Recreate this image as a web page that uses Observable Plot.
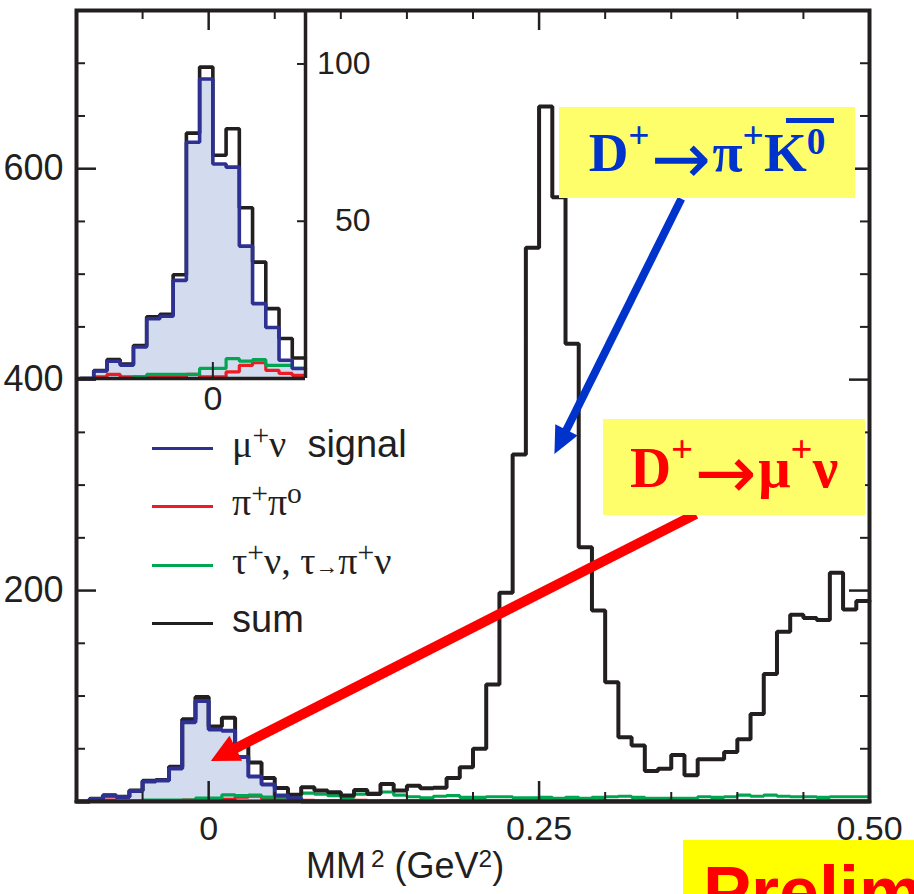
<!DOCTYPE html>
<html><head><meta charset="utf-8">
<script src="https://cdn.jsdelivr.net/npm/d3@7"></script>
<script src="https://cdn.jsdelivr.net/npm/@observablehq/plot@0.6"></script>
<style>
body{margin:0;background:#fff;}
#wrap{position:relative;width:914px;height:894px;overflow:hidden;background:#fff;}
#wrap svg{position:absolute;left:0;top:0;}
.abs{position:absolute;white-space:nowrap;line-height:1;}
.serif{font-family:"Liberation Serif","Times New Roman",serif;}
.sans{font-family:"Liberation Sans",Arial,Helvetica,sans-serif;}
.lsup{font-size:0.78em;position:relative;top:-0.4em;}
.tsup{font-size:0.68em;position:relative;top:-0.45em;}
.bigarrow{font-family:"DejaVu Sans",sans-serif;font-size:1.3em;font-weight:normal;position:relative;top:0.08em;margin:0 0.02em;line-height:0.8;}
.box{position:absolute;display:flex;align-items:center;justify-content:center;white-space:nowrap;line-height:1;font-weight:bold;}
</style></head><body><div id="wrap"></div>
<script>
// ---------------- data ----------------
const binLow = [-0.10,-0.09,-0.08,-0.07,-0.06,-0.05,-0.04,-0.03,-0.02,-0.01,
  0.00,0.01,0.02,0.03,0.04,0.05,0.06,0.07,0.08,0.09,
  0.10,0.11,0.12,0.13,0.14,0.15,0.16,0.17,0.18,0.19,
  0.20,0.21,0.22,0.23,0.24,0.25,0.26,0.27,0.28,0.29,
  0.30,0.31,0.32,0.33,0.34,0.35,0.36,0.37,0.38,0.39,
  0.40,0.41,0.42,0.43,0.44,0.45,0.46,0.47,0.48,0.49];
const binTop = 0.50;
const sumCounts = [0,2.5,6,4.6,10.5,19.6,20.4,33,78,99,
  71,79.4,54.3,37,22.2,12.7,6.5,13.6,10.4,8.8,
  5.7,11,7,16.7,10.4,15,12.5,13,22.4,32.5,
  50,111,198,329,525,659,573,434,241,181,
  113,61,53,29,31,44,25,40,40,47,
  59,83,121,161,177,174,172,217,182,190];
const signalCounts = [0,2.4,5.5,4.2,10,19,19.8,31.2,75.1,95.2,
  68.2,67.2,42.1,23.8,16.2,5.8,3.2,0,0,0,
  0,0,0,0,0,0,0,0,0,0,
  0,0,0,0,0,0,0,0,0,0,
  0,0,0,0,0,0,0,0,0,0,
  0,0,0,0,0,0,0,0,0,0];
const pipiCounts = [0,0.5,1.3,0.5,0.5,0.5,0.5,0.5,1.3,0.5,
  0.5,2.1,4.2,5,2.6,1.6,1,1,0.5,0.8,
  0.5,1,0.6,0.8,0.5,0.7,0.5,0.5,0.8,0.5,
  0.6,0.5,0.7,0.5,0.6,0.5,0.5,0.7,0.5,0.5,
  0.6,0.5,0.5,0.4,0.5,0.5,0.4,0.5,0.5,0.5,
  0.6,0.5,0.5,0.5,0.4,0.5,0.5,0.5,0.5,0.5];
const taunuCounts = [0,0,0,0,0.5,1.3,1.3,1.3,1.3,3.2,
  3.2,6.3,5.5,6,4.2,4.2,3.2,8,7,5.5,
  4,7,8,9,6,4.5,3.5,5,5.5,4,
  4,4.5,4.5,3.5,3.5,4,3,4,3,4,
  4.5,5,4,3,3,3,3,4.5,4,4.5,
  6,5,6,5,4.5,4.5,4,4.5,4.5,4.5];

const xMajor = [0, 0.25];
const xMinor = [-0.05, 0.05, 0.10, 0.15, 0.20, 0.30, 0.35, 0.40, 0.45];
const xLabelVals = [0, 0.25, 0.50];
const xLabels = ["0", "0.25", "0.50"];
const yMajor = [200, 400, 600];
const yMinor = [50, 100, 150, 250, 300, 350, 450, 500, 550, 650, 700];
const yLabels = ["200", "400", "600"];

const insetYTicks = [50, 100];
const insetYLabels = ["50", "100"];
const insetXTicks = [0];
const insetXLabels = ["0"];

const legendItems = ["signal", "pipi", "taunu", "sum"];

// annotation arrows in data coordinates (tail -> head)
const arrowTail = [{x: 0.358, y: 571}, {x: 0.369, y: 272}];
const arrowHead = [{x: 0.262, y: 329}, {x: 0.002, y: 38}];

// ---------------- styles ----------------
const C = {black: "#231f20", blue: "#2e3192", red: "#ed1c24", green: "#00a651", fill: "#d3dcee",
  arrowBlue: "#0033cc", arrowRed: "#ff0000"};
const arrowStyle = [{color: C.arrowBlue, width: 8, headLength: 27, headWidth: 25},
                    {color: C.arrowRed, width: 10, headLength: 28, headWidth: 28}];
const SANS = '"Liberation Sans", Arial, Helvetica, sans-serif';

const W = 914, H = 894, mL = 76, mR = 45, mT = 10, mB = 93;
const FW = W - mL - mR, FH = H - mT - mB;

const pts = (vals) => binLow.map((x, i) => ({x, y: vals[i]})).concat([{x: binTop, y: vals[vals.length - 1]}]);

function arrowsMark(index, scales) {
  const g = d3.create("svg:g");
  arrowTail.forEach((t, i) => {
    const h = arrowHead[i], s = arrowStyle[i];
    const x1 = scales.x(t.x), y1 = scales.y(t.y), x2 = scales.x(h.x), y2 = scales.y(h.y);
    const dx = x2 - x1, dy = y2 - y1, L = Math.hypot(dx, dy), ux = dx / L, uy = dy / L;
    const bx = x2 - ux * s.headLength, by = y2 - uy * s.headLength;
    g.append("line").attr("x1", x1).attr("y1", y1).attr("x2", bx + ux * 3).attr("y2", by + uy * 3)
      .attr("stroke", s.color).attr("stroke-width", s.width);
    g.append("path").attr("fill", s.color)
      .attr("d", `M${x2},${y2}L${bx - uy * s.headWidth / 2},${by + ux * s.headWidth / 2}L${bx + uy * s.headWidth / 2},${by - ux * s.headWidth / 2}Z`);
  });
  return g.node();
}

const stepLine = (vals, stroke, sw) => Plot.line(pts(vals), {x: "x", y: "y", curve: "step-after", stroke, strokeWidth: sw, strokeLinejoin: "miter"});

const main = Plot.plot({
  width: W, height: H, marginLeft: mL, marginRight: mR, marginTop: mT, marginBottom: mB,
  x: {domain: [-0.10, 0.50], axis: null},
  y: {domain: [0, 750], axis: null},
  style: {fontFamily: SANS, background: "transparent", color: C.black},
  marks: [
    Plot.areaY(pts(signalCounts), {x: "x", y: "y", curve: "step-after", fill: C.fill}),
    stepLine(pipiCounts, C.red, 3.2),
    stepLine(taunuCounts, C.green, 3.2),
    stepLine(sumCounts, C.black, 4),
    stepLine(signalCounts, C.blue, 4),
    arrowsMark,
    // inward ticks on all four sides
    Plot.ruleX(xMajor, {x: d => d, insetTop: FH - 20, stroke: C.black, strokeWidth: 2.5}),
    Plot.ruleX(xMajor, {x: d => d, insetBottom: FH - 20, stroke: C.black, strokeWidth: 2.5}),
    Plot.ruleX(xMinor, {x: d => d, insetTop: FH - 9, stroke: C.black, strokeWidth: 2}),
    Plot.ruleX(xMinor, {x: d => d, insetBottom: FH - 9, stroke: C.black, strokeWidth: 2}),
    Plot.ruleY(yMajor, {y: d => d, insetRight: FW - 20, stroke: C.black, strokeWidth: 2.5}),
    Plot.ruleY(yMajor, {y: d => d, insetLeft: FW - 20, stroke: C.black, strokeWidth: 2.5}),
    Plot.ruleY(yMinor, {y: d => d, insetRight: FW - 9, stroke: C.black, strokeWidth: 2}),
    Plot.ruleY(yMinor, {y: d => d, insetLeft: FW - 9, stroke: C.black, strokeWidth: 2}),
    Plot.frame({stroke: C.black, strokeWidth: 4}),
    Plot.text(xLabelVals, {x: d => d, text: (d, i) => xLabels[i], frameAnchor: "bottom", lineAnchor: "top", dy: 14, fontSize: 34, fill: C.black}),
    Plot.text(yMajor, {y: d => d, text: (d, i) => yLabels[i], frameAnchor: "left", textAnchor: "end", dx: -13, fontSize: 36, fill: C.black})
  ]
});

// ---------------- inset ----------------
const insetDomain = [-0.10, 0.07];
const iW = 400, iH = 420, imL = 80, imR = 95, imT = 10, imB = 42;
const iFW = iW - imL - imR, iFH = iH - imT - imB;
const insetIdx = binLow.map((x, i) => i).filter(i => binLow[i] < insetDomain[1] - 1e-9);
const ipts = (vals) => insetIdx.map(i => ({x: binLow[i], y: vals[i]})).concat([{x: insetDomain[1], y: vals[insetIdx[insetIdx.length - 1]]}]);
const iStep = (vals, stroke, sw) => Plot.line(ipts(vals), {x: "x", y: "y", curve: "step-after", stroke, strokeWidth: sw, strokeLinejoin: "miter"});

const inset = Plot.plot({
  width: iW, height: iH, marginLeft: imL, marginRight: imR, marginTop: imT, marginBottom: imB,
  x: {domain: insetDomain, axis: null},
  y: {domain: [0, 117], axis: null},
  style: {fontFamily: SANS, background: "transparent", overflow: "visible"},
  marks: [
    Plot.areaY(ipts(signalCounts), {x: "x", y: "y", curve: "step-after", fill: C.fill}),
    iStep(pipiCounts, C.red, 3.2),
    iStep(taunuCounts, C.green, 3.2),
    iStep(sumCounts, C.black, 3.6),
    iStep(signalCounts, C.blue, 3.6),
    Plot.ruleY([0], {y: d => d, insetLeft: -4, stroke: C.black, strokeWidth: 3.5}),
    Plot.ruleX([insetDomain[1]], {x: d => d, stroke: C.black, strokeWidth: 3.5}),
    Plot.ruleY(insetYTicks, {y: d => d, insetLeft: iFW - 8, stroke: C.black, strokeWidth: 2}),
    Plot.ruleX(insetXTicks, {x: d => d, insetTop: iFH - 16, stroke: C.black, strokeWidth: 2}),
    Plot.text(insetYTicks, {y: d => d, text: (d, i) => insetYLabels[i], frameAnchor: "right", textAnchor: "end", dx: 65, fontSize: 32, fill: C.black}),
    Plot.text(insetXTicks, {x: d => d, text: (d, i) => insetXLabels[i], frameAnchor: "bottom", lineAnchor: "top", dy: 7, fontSize: 34, fill: C.black})
  ]
});

const wrap = document.getElementById("wrap");
wrap.appendChild(main);
wrap.appendChild(inset);

// ---------------- legend ----------------
const legendColors = {signal: C.blue, pipi: C.red, taunu: C.green, sum: C.black};
const legendHTML = {
  signal: '<span class="serif">&mu;<span class="lsup">+</span>&nu;</span><span class="sans">&nbsp;&nbsp;signal</span>',
  pipi: '<span class="serif">&pi;<span class="lsup">+</span>&pi;<span class="lsup">o</span></span>',
  taunu: '<span class="serif">&tau;<span class="lsup">+</span>&nu;, &tau;<span style="font-size:0.6em">&rarr;</span>&pi;<span class="lsup">+</span>&nu;</span>',
  sum: '<span class="sans">sum</span>'
};
legendItems.forEach((k, i) => {
  const base = 457 + 58.3 * i;
  const row = document.createElement("div");
  row.className = "abs";
  row.style.cssText = `left:152px;top:${base - 32}px;height:38px;width:300px;font-size:38px;color:${C.black}`;
  row.innerHTML = `<div style="position:absolute;left:0;top:${32 - 8.5 - 1.5}px;width:61px;height:3px;background:${legendColors[k]}"></div>` +
    `<div style="position:absolute;left:80px;top:0">${legendHTML[k]}</div>`;
  wrap.appendChild(row);
});

// ---------------- annotations ----------------
const b1 = document.createElement("div");
b1.className = "box serif";
b1.style.cssText = "left:559px;top:107px;width:296px;height:91px;background:#fefe6a;color:#0033cc;font-size:55px;";
b1.innerHTML = 'D<span class="tsup">+</span><span class="bigarrow">&rarr;</span>&pi;<span class="tsup">+</span>' +
  '<span style="position:relative;display:inline-block">K<span class="tsup">0</span>' +
  '<span style="position:absolute;left:0.4em;right:-0.15em;top:-7px;height:5px;background:#0033cc"></span></span>';
wrap.appendChild(b1);

const b2 = document.createElement("div");
b2.className = "box serif";
b2.style.cssText = "left:603px;top:419px;width:262px;height:96px;background:#fefe6a;color:#ff0000;font-size:57px;";
b2.innerHTML = 'D<span class="tsup">+</span><span class="bigarrow">&rarr;</span>&mu;<span class="tsup">+</span>&nu;';
wrap.appendChild(b2);

const xt = document.createElement("div");
xt.className = "abs sans";
xt.style.cssText = "left:306px;top:848px;font-size:36px;color:#231f20";
xt.innerHTML = 'MM<span class="tsup">&thinsp;2</span> (GeV<span class="tsup">2</span>)';
wrap.appendChild(xt);

const pr = document.createElement("div");
pr.className = "abs sans";
pr.style.cssText = "left:683px;top:840px;width:260px;height:60px;background:#ffff00;overflow:hidden;";
pr.innerHTML = '<div style="position:absolute;left:20px;top:16px;font-size:72px;font-weight:bold;color:#ff0000;line-height:1">Preliminary</div>';
wrap.appendChild(pr);
</script></body></html>
